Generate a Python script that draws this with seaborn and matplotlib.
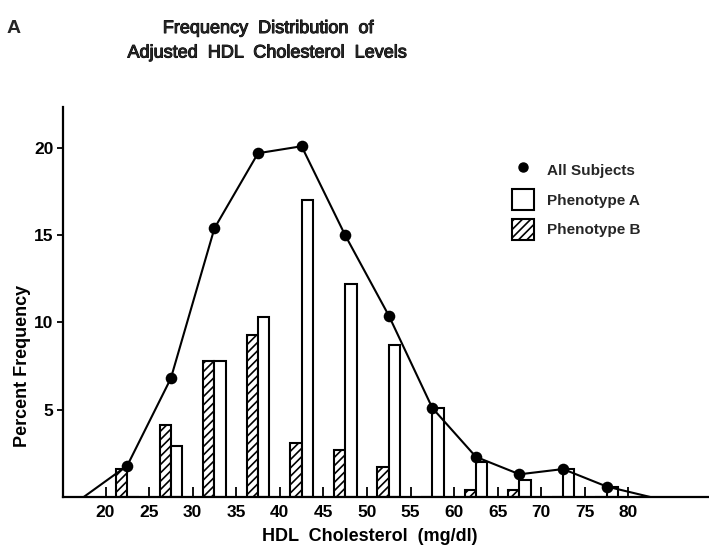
import matplotlib
matplotlib.use("Agg")
import matplotlib.pyplot as plt
import matplotlib.patheffects as pe
from matplotlib.lines import Line2D
from matplotlib.patches import Patch
import pandas as pd
import seaborn as sns

# HDL cholesterol bins (mg/dl), plotted at bin midpoints
bin_mid = [22.5, 27.5, 32.5, 37.5, 42.5, 47.5, 52.5, 57.5, 62.5, 67.5, 72.5, 77.5]
all_subjects = [1.8, 6.8, 15.4, 19.7, 20.1, 15.0, 10.4, 5.1, 2.3, 1.3, 1.6, 0.6]
phenotype_a = [0.0, 2.9, 7.8, 10.3, 17.0, 12.2, 8.7, 5.1, 2.0, 1.0, 1.6, 0.6]
phenotype_b = [1.6, 4.1, 7.8, 9.3, 3.1, 2.7, 1.7, 0.0, 0.4, 0.4, 0.0, 0.0]
# empty bins at both tails close the frequency polygon
tail_mid = [17.5, 82.5]
tail_freq = [0.0, 0.0]

x_ticks = [20, 25, 30, 35, 40, 45, 50, 55, 60, 65, 70, 75, 80]
y_ticks = [5, 10, 15, 20]
groups = ["Phenotype B", "Phenotype A"]

sns.set_theme(style="ticks")
plt.rcParams["font.family"] = ["Liberation Sans", "DejaVu Sans"]
plt.rcParams["font.weight"] = "bold"
plt.rcParams["hatch.linewidth"] = 1.2
plt.rcParams["hatch.color"] = "black"

bars = pd.DataFrame({
    "hdl": bin_mid * 2,
    "freq": phenotype_b + phenotype_a,
    "group": ["Phenotype B"] * len(bin_mid) + ["Phenotype A"] * len(bin_mid),
})
poly = pd.DataFrame({
    "hdl": [tail_mid[0]] + bin_mid + [tail_mid[1]],
    "freq": [tail_freq[0]] + all_subjects + [tail_freq[1]],
})

fig = plt.figure(figsize=(7.09, 5.45), dpi=100)
ax = fig.add_axes([0.0882, 0.0881, 0.912, 0.7156])

sns.barplot(data=bars, x="hdl", y="freq", hue="group", hue_order=groups,
            native_scale=True, width=0.52, gap=0, saturation=1,
            palette={"Phenotype A": "white", "Phenotype B": "white"},
            edgecolor="black", linewidth=1.5, errorbar=None,
            legend=False, ax=ax, zorder=2)
for cont, name in zip(ax.containers, groups):
    if name == "Phenotype B":
        for bar in cont:
            bar.set_hatch("////")

sns.lineplot(data=poly, x="hdl", y="freq", color="black", linewidth=1.5,
             legend=False, ax=ax, zorder=3)
sns.scatterplot(x=bin_mid, y=all_subjects, color="black", s=70,
                edgecolor="black", linewidth=0, legend=False, ax=ax, zorder=4)

ax.set_xlim(15.07, 89.26)
ax.set_ylim(0, 22.35)
ax.set_xticks(x_ticks)
ax.set_xticklabels([str(v) for v in x_ticks])
ax.set_yticks(y_ticks)
ax.set_yticklabels([str(v) for v in y_ticks])
ax.tick_params(axis="x", direction="in", length=7.5, width=1.3, pad=6,
               labelsize=12.5, colors="black")
ax.tick_params(axis="y", direction="out", length=4.5, width=1.3, pad=2,
               labelsize=12.5, colors="black")
sns.despine(ax=ax)
for side in ("left", "bottom"):
    ax.spines[side].set_linewidth(1.6)
    ax.spines[side].set_color("black")

ax.set_xlabel("HDL  Cholesterol  (mg/dl)", fontsize=13, color="black",
              va="baseline", fontweight="bold")
ax.xaxis.set_label_coords(0.4756, -0.1118)
ax.set_ylabel("Percent Frequency", fontsize=13, color="black",
              va="baseline", fontweight="bold")
ax.yaxis.set_label_coords(-0.0554, 0.335)

# title in a slightly heavier regular face, loosely word-spaced
heavy = [pe.withStroke(linewidth=0.7, foreground="black")]
fig.text(268 / 709, 1 - 33 / 545, "Frequency  Distribution  of", fontsize=13,
         fontweight="normal", ha="center", va="baseline", path_effects=heavy)
fig.text(267 / 709, 1 - 57.5 / 545, "Adjusted  HDL  Cholesterol  Levels",
         fontsize=13, fontweight="normal", ha="center", va="baseline",
         path_effects=heavy)
fig.text(7 / 709, 1 - 33.3 / 545, "A", fontsize=14, fontweight="bold",
         ha="left", va="baseline")

handles = [
    Line2D([], [], marker="o", color="black", linestyle="none", markersize=6.5),
    Patch(facecolor="white", edgecolor="black", linewidth=1.5),
    Patch(facecolor="white", edgecolor="black", linewidth=1.5, hatch="////"),
]
ax.legend(handles, ["All Subjects", "Phenotype A", "Phenotype B"],
          loc="upper left", bbox_to_anchor=(511.7 / 709, 1 - 159.5 / 545),
          bbox_transform=fig.transFigure, frameon=False,
          prop={"size": 11, "weight": "bold"},
          handlelength=1.44, handleheight=1.74, handletextpad=0.85,
          labelspacing=0.56, borderpad=0, borderaxespad=0)

fig.savefig("out.png", dpi=100)
